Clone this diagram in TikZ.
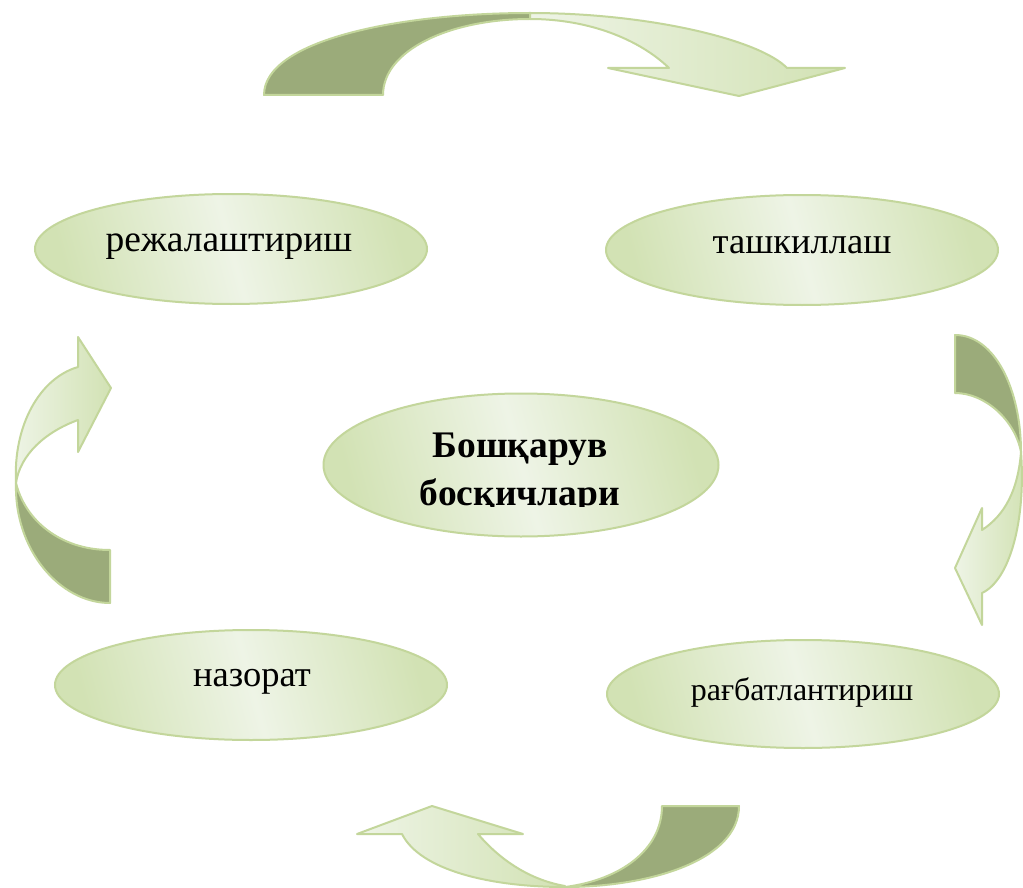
\documentclass[tikz,border=0pt]{standalone}
\usepackage{fontspec}
\setmainfont{Liberation Serif}
\usetikzlibrary{shapes.geometric}
\definecolor{arrdark}{HTML}{9BAB7A}
\definecolor{edgegreen}{HTML}{C3D69B}
\definecolor{lightA}{HTML}{EEF4E6}
\definecolor{lightB}{HTML}{D2E2B4}
\begin{document}
\begin{tikzpicture}[x=1pt,y=-1pt,
  stage/.style={ellipse, draw=edgegreen, line width=2pt, inner sep=0pt,
    minimum width=392pt, minimum height=110pt,
    top color=lightB, bottom color=lightB, middle color=lightA, shading angle=-75},
  lbl/.style={anchor=base, inner sep=0pt, font=\fontsize{36.5}{40}\selectfont},
  backpart/.style={fill=arrdark, draw=edgegreen, line width=2pt, line join=round},
  frontpart/.style={draw=edgegreen, line width=2pt, line join=round,
    left color=lightA, right color=lightB}
]
\fill[white] (0,0) rectangle (1023,888);
\useasboundingbox (0,0) rectangle (1023,888);

% ellipses
\node[stage] (plan) at (231,249) {};
\node[stage] (org) at (802,250) {};
\node[stage, minimum height=143pt, minimum width=395pt] (core) at (521,465) {};
\node[stage] (ctrl) at (251,685) {};
\node[stage, minimum height=108pt] (motiv) at (803,694) {};

\node[lbl, font=\fontsize{37.5}{40}\selectfont] (planT) at (229,251) {режалаштириш};
\node[lbl] (orgT) at (802,253) {ташкиллаш};
\node[lbl] (ctrlT) at (252,686) {назорат};
\node[lbl, font=\fontsize{32}{36}\selectfont] (motivT) at (802,700) {рағбатлантириш};
\begin{scope}
  \clip (300,380) rectangle (740,506.5);
  \node[anchor=base, inner sep=0pt, font=\fontsize{37.5}{45}\bfseries] (coreT) at (520,457) {Бошқарув};
  \node[anchor=base, inner sep=0pt, font=\fontsize{37.5}{45}\bfseries] (coreT2) at (520,505.5) {босқичлари};
\end{scope}

% top arrow
\path[backpart] (264,95) .. controls (264,40) and (400,13) .. (530,13) -- (530,19)
  .. controls (450,19) and (383,50) .. (383,95) -- cycle;
\path[frontpart] (530,13) .. controls (650,13) and (760,40) .. (787,68) -- (845,68) -- (739,96)
  -- (608,68) -- (669,68) .. controls (640,40) and (590,19) .. (530,19) -- cycle;

% right arrow
\path[backpart] (955,335) .. controls (995,335) and (1021,390) .. (1021,452)
  .. controls (1015,420) and (985,393) .. (955,393) -- cycle;
\path[frontpart] (1021,452) .. controls (1026,520) and (1010,580) .. (982,593) -- (982,625)
  -- (955,568) -- (982,508) -- (982,530) .. controls (1005,515) and (1018,490) .. (1021,452) -- cycle;

% left arrow
\path[backpart] (16,483) .. controls (14,550) and (60,603) .. (110,603) -- (110,550)
  .. controls (60,550) and (25,520) .. (16,483) -- cycle;
\path[frontpart] (78,367) -- (78,337) -- (111,388) -- (78,452) -- (78,420)
  .. controls (45,432) and (20,455) .. (16,483) .. controls (13,425) and (40,378) .. (78,367) -- cycle;

% bottom arrow
\path[backpart] (662,806) -- (739,806) .. controls (739,860) and (650,887) .. (565,887)
  .. controls (620,880) and (662,850) .. (662,806) -- cycle;
\path[frontpart] (565,887) .. controls (490,887) and (420,870) .. (402,834) -- (357,834)
  -- (432,806) -- (523,834) -- (478,834) .. controls (500,860) and (530,880) .. (565,886) -- cycle;
\end{tikzpicture}
\end{document}
